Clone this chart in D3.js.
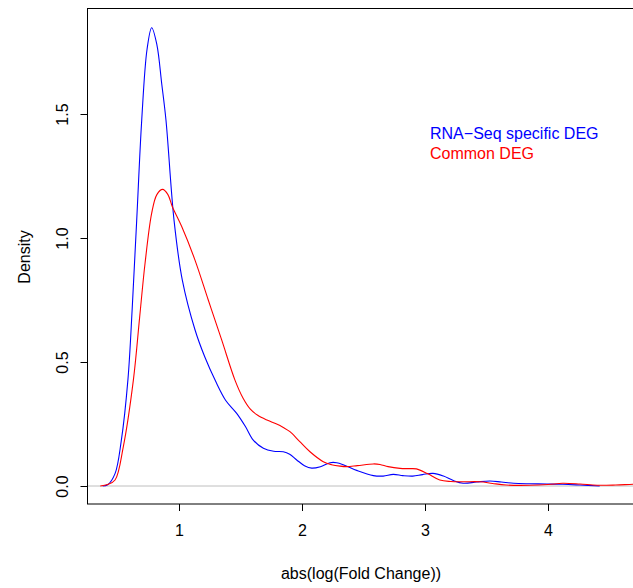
<!DOCTYPE html>
<html>
<head>
<meta charset="utf-8">
<script src="https://cdn.jsdelivr.net/npm/d3@7"></script>
<style>
  html, body { margin: 0; padding: 0; background: #fff; }
  svg { display: block; }
  text { font-family: "Liberation Sans", Arial, sans-serif; fill: #000; }
</style>
</head>
<body>
<svg id="chart" width="633" height="588"></svg>
<script>
// Blue: RNA-Seq specific DEG density (x, density)
const blueX = [0.38, 0.42, 0.48, 0.53, 0.585, 0.62, 0.656, 0.697, 0.74, 0.778, 0.82, 0.86, 0.894, 0.96, 1.027, 1.13, 1.21, 1.30, 1.38, 1.469, 1.54, 1.604, 1.686, 1.77, 1.848, 1.90, 1.957, 2.02, 2.079, 2.15, 2.228, 2.282, 2.34, 2.45, 2.58, 2.66, 2.742, 2.82, 2.90, 2.98, 3.065, 3.15, 3.23, 3.31, 3.42, 3.528, 3.62, 3.72, 3.85, 3.99, 4.12, 4.26, 4.42];
const blueY = [0.000, 0.005, 0.050, 0.180, 0.430, 0.720, 1.070, 1.476, 1.760, 1.848, 1.780, 1.620, 1.476, 1.070, 0.830, 0.630, 0.520, 0.420, 0.345, 0.293, 0.240, 0.185, 0.152, 0.140, 0.138, 0.128, 0.105, 0.082, 0.072, 0.078, 0.094, 0.094, 0.085, 0.062, 0.042, 0.040, 0.047, 0.042, 0.040, 0.046, 0.051, 0.040, 0.022, 0.011, 0.016, 0.020, 0.016, 0.011, 0.009, 0.008, 0.007, 0.004, 0.000];
// Red: Common DEG density (x, density)
const redX = [0.36, 0.42, 0.48, 0.547, 0.629, 0.68, 0.724, 0.778, 0.82, 0.867, 0.91, 0.946, 1.022, 1.13, 1.238, 1.347, 1.455, 1.52, 1.58, 1.64, 1.72, 1.794, 1.848, 1.902, 1.98, 2.065, 2.173, 2.24, 2.309, 2.363, 2.45, 2.58, 2.634, 2.70, 2.797, 2.87, 2.93, 3.02, 3.12, 3.21, 3.31, 3.447, 3.55, 3.66, 3.85, 4.00, 4.12, 4.26, 4.40, 4.55, 4.69, 4.8];
const redY = [0.000, 0.006, 0.024, 0.158, 0.427, 0.680, 0.898, 1.100, 1.175, 1.196, 1.175, 1.126, 1.046, 0.911, 0.750, 0.589, 0.427, 0.355, 0.310, 0.285, 0.265, 0.250, 0.236, 0.219, 0.180, 0.138, 0.098, 0.086, 0.080, 0.078, 0.082, 0.089, 0.087, 0.078, 0.071, 0.070, 0.069, 0.050, 0.024, 0.018, 0.017, 0.017, 0.010, 0.004, 0.003, 0.006, 0.011, 0.008, 0.003, 0.004, 0.007, 0.008];

const xTicks = [1, 2, 3, 4];
const yTicks = [0, 0.5, 1.0, 1.5];
const yTickLabels = ["0.0", "0.5", "1.0", "1.5"];
const legendLabels = ["RNA\u2212Seq specific DEG", "Common DEG"];
const seriesColors = ["#0000FF", "#FF0000"];

const svg = d3.select("#chart");
const box = { left: 87.5, right: 634, top: 8.5, bottom: 504 };
const FS = 16;

// scales
const x = d3.scaleLinear().domain([0, 1]).range([56, 179]);
const y = d3.scaleLinear().domain([0, 1.5]).range([486, 114]);

svg.append("defs").append("clipPath").attr("id", "clip")
  .append("rect")
  .attr("x", box.left).attr("y", box.top)
  .attr("width", box.right - box.left).attr("height", box.bottom - box.top);

const plot = svg.append("g").attr("clip-path", "url(#clip)");

plot.append("line")
  .attr("x1", box.left).attr("x2", box.right)
  .attr("y1", y(0)).attr("y2", y(0))
  .attr("stroke", "#BEBEBE").attr("stroke-width", 1);

const line = d3.line()
  .x(d => x(d[0])).y(d => y(Math.max(0, d[1])))
  .curve(d3.curveCatmullRom.alpha(0.5));

const blueData = blueX.map((v, i) => [v, blueY[i]]);
const redData = redX.map((v, i) => [v, redY[i]]);

plot.append("path").datum(blueData)
  .attr("d", line).attr("fill", "none")
  .attr("stroke", seriesColors[0]).attr("stroke-width", 1.1);
plot.append("path").datum(redData)
  .attr("d", line).attr("fill", "none")
  .attr("stroke", seriesColors[1]).attr("stroke-width", 1.1);

svg.append("rect")
  .attr("x", box.left).attr("y", box.top)
  .attr("width", box.right - box.left).attr("height", box.bottom - box.top)
  .attr("fill", "none").attr("stroke", "#000").attr("stroke-width", 1);

// x axis
const xAxis = d3.axisBottom(x).tickValues(xTicks).tickSize(7).tickPadding(14)
  .tickFormat(d3.format("d"));
const gx = svg.append("g").attr("transform", `translate(0,${box.bottom})`).call(xAxis);
gx.select(".domain").remove();
gx.selectAll("text").attr("font-size", FS).attr("font-family", "Liberation Sans, Arial, sans-serif").attr("fill", "#000");
gx.selectAll("line").attr("stroke", "#000");

// y axis
const yAxis = d3.axisLeft(y).tickValues(yTicks).tickSize(7).tickPadding(0)
  .tickFormat((d, i) => yTickLabels[i]);
const gy = svg.append("g").attr("transform", `translate(${box.left},0)`).call(yAxis);
gy.select(".domain").remove();
gy.selectAll("line").attr("stroke", "#000");
gy.selectAll("text")
  .attr("font-size", FS).attr("font-family", "Liberation Sans, Arial, sans-serif").attr("fill", "#000")
  .attr("text-anchor", "middle")
  .attr("x", 0).attr("dy", 0)
  .attr("transform", "translate(-25,0) rotate(-90)")
  .attr("dominant-baseline", "central");

// axis titles
svg.append("text")
  .attr("x", 361).attr("y", 579)
  .attr("text-anchor", "middle").attr("font-size", FS)
  .text("abs(log(Fold Change))");
svg.append("text")
  .attr("transform", "translate(30,257) rotate(-90)")
  .attr("text-anchor", "middle").attr("font-size", FS)
  .text("Density");

// legend
legendLabels.forEach((lab, i) => {
  svg.append("text")
    .attr("x", 430).attr("y", 139 + i * 20)
    .attr("font-size", FS)
    .style("fill", seriesColors[i])
    .text(lab);
});
</script>
</body>
</html>
